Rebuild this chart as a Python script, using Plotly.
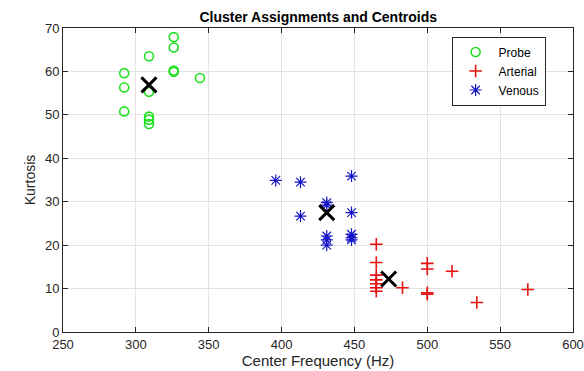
import plotly.graph_objects as go

# ---- data ----
probe_x = [292, 292, 292, 309, 309, 309, 309, 309, 326, 326, 326, 326, 344]
probe_y = [59.6, 56.3, 50.8, 63.5, 55.3, 49.6, 48.9, 47.9, 67.9, 65.5, 60.2, 59.9, 58.5]

arterial_x = [465, 465, 465, 465, 465, 465, 465, 483, 500, 500, 500, 500, 517, 534, 569]
arterial_y = [20.2, 16.0, 13.1, 12.0, 11.1, 10.2, 9.4, 10.2, 15.8, 14.5, 9.0, 8.7, 14.0, 6.8, 9.8]

venous_x = [396, 413, 448, 431, 431, 413, 448, 431, 431, 431, 448, 448, 448]
venous_y = [34.9, 34.5, 35.9, 29.8, 29.2, 26.7, 27.5, 22.1, 21.2, 20.0, 22.5, 21.7, 21.2]

centroid_x = [309, 473.5, 431]
centroid_y = [56.9, 12.2, 27.5]

x_ticks = [250, 300, 350, 400, 450, 500, 550, 600]
y_ticks = [0, 10, 20, 30, 40, 50, 60, 70]

GREEN = "rgb(30,225,30)"
RED = "rgb(230,20,20)"
BLUE = "rgb(20,20,200)"

fig = go.Figure()
fig.add_trace(go.Scatter(x=probe_x, y=probe_y, mode="markers", name="Probe",
                         marker=dict(symbol="circle-open", size=9, color=GREEN,
                                     line=dict(color=GREEN, width=1.6))))
fig.add_trace(go.Scatter(x=arterial_x, y=arterial_y, mode="markers", name="Arterial",
                         marker=dict(symbol="cross-thin-open", size=9, color=RED,
                                     line=dict(color=RED, width=1.6))))
fig.add_trace(go.Scatter(x=venous_x, y=venous_y, mode="markers", name="Venous",
                         marker=dict(symbol="asterisk-open", size=10, color=BLUE,
                                     line=dict(color=BLUE, width=1.2))))
fig.add_trace(go.Scatter(x=centroid_x, y=centroid_y, mode="markers", name="Centroids",
                         showlegend=False,
                         marker=dict(symbol="x-thin-open", size=15, color="black",
                                     line=dict(color="black", width=3))))

axis_common = dict(showgrid=True, gridcolor="#e3e3e3", gridwidth=1,
                   showline=True, linecolor="#262626", linewidth=1, mirror="ticks",
                   ticks="inside", ticklen=5, tickcolor="#262626",
                   tickfont=dict(family="Liberation Sans, Arial", size=13, color="#262626"),
                   zeroline=False, automargin=False)

fig.update_layout(
    width=584, height=371,
    margin=dict(l=63, r=11, t=28, b=39),
    paper_bgcolor="white", plot_bgcolor="white",
    title=dict(text="<b>Cluster Assignments and Centroids</b>",
               font=dict(family="Liberation Sans, Arial", size=14, color="black"),
               x=0.545, xanchor="center", y=0.955, yanchor="middle"),
    xaxis=dict(range=[250, 600], tickvals=x_ticks,
               title=dict(text="Center Frequency (Hz)", standoff=3,
                          font=dict(family="Liberation Sans, Arial", size=15, color="#262626")),
               **axis_common),
    yaxis=dict(range=[0, 70], tickvals=y_ticks,
               title=dict(text="Kurtosis", standoff=6,
                          font=dict(family="Liberation Sans, Arial", size=14, color="#262626")),
               **axis_common),
    legend=dict(x=0.762, y=0.972, xanchor="left", yanchor="top",
                bgcolor="white", bordercolor="#262626", borderwidth=1,
                font=dict(family="Liberation Sans, Arial", size=12, color="black"),
                itemwidth=36, tracegroupgap=0),
    showlegend=True,
)

fig.write_html("out.html")
